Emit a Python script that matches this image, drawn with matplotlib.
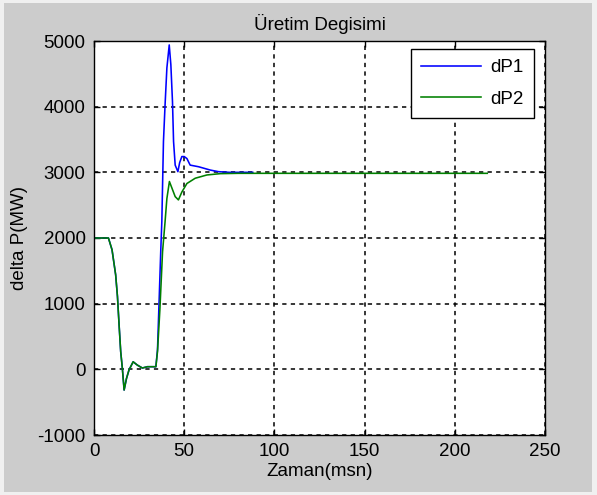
import matplotlib
matplotlib.use('Agg')
import matplotlib.pyplot as plt
from matplotlib.patches import Rectangle

plt.rcParams['font.family'] = ['Liberation Sans', 'DejaVu Sans']
plt.rcParams['axes.unicode_minus'] = False

# dP1 (blue)
t1 = [0, 8, 10, 12, 13, 13.9, 14.8, 15.7, 16.7, 18, 19.4, 21.7, 24, 26.8, 29.6, 34.3,
      35.2, 36.1, 37.0, 37.6, 38.5, 39.4, 40.4, 41.0, 41.7, 42.6, 43.5, 44.1, 45, 46.5,
      47.5, 48.7, 50, 51.5, 53.3, 58, 64.4, 69, 75, 88]
dp1 = [2000, 2000, 1820, 1440, 1110, 680, 270, 20, -315, -140, -10, 115, 65, 20, 40, 40,
       300, 1050, 1800, 2250, 3470, 4030, 4590, 4750, 4940, 4640, 4080, 3470, 3110, 3010,
       3150, 3240, 3240, 3210, 3110, 3085, 3035, 3010, 3000, 3000]

# dP2 (green)
t2 = [0, 8, 10, 12, 13, 13.9, 14.8, 15.7, 16.7, 18, 19.4, 21.7, 24, 26.8, 29.6, 34.3,
      35.2, 36.5, 38, 39.4, 40.4, 41.8, 43.2, 45, 46.8, 48.7, 51.5, 56.1, 62.6, 70, 80, 218]
dp2 = [2000, 2000, 1820, 1440, 1110, 680, 270, 20, -315, -140, -10, 115, 65, 20, 40, 40,
       270, 900, 1790, 2250, 2600, 2860, 2760, 2630, 2580, 2700, 2830, 2910, 2960, 2980, 2985, 2985]

xticks = [0, 50, 100, 150, 200, 250]
yticks = [-1000, 0, 1000, 2000, 3000, 4000, 5000]

W, H = 597, 495
fs = 13.5
fig = plt.figure(figsize=(W / 100, H / 100), dpi=100, facecolor='#f0f0f0')
fig.patches.append(Rectangle((4 / W, 3 / H), 588 / W, 489 / H, transform=fig.transFigure,
                             facecolor='#cccccc', edgecolor='none', zorder=-10))

ax = fig.add_axes([94 / W, 1 - 435 / H, 451 / W, 394 / H])
ax.plot(t1, dp1, color='#0000ff', linewidth=1.15, label='dP1')
ax.plot(t2, dp2, color='#008000', linewidth=1.15, label='dP2')

ax.set_xlim(0, 250)
ax.set_ylim(-1000, 5000)
ax.set_xticks(xticks)
ax.set_yticks(yticks)
ax.tick_params(direction='in', top=True, right=True, length=4, width=1,
               labelsize=fs, pad=6)
ax.tick_params(axis='x', pad=6)
for s in ax.spines.values():
    s.set_linewidth(1)
ax.grid(True, color='black', linewidth=1.1, linestyle=(0, (2.8, 2.8)))

ax.set_title('Üretim Degisimi', fontsize=fs, pad=8)
ax.set_xlabel('Zaman(msn)', fontsize=fs, labelpad=2)
ax.set_ylabel('delta P(MW)', fontsize=fs, labelpad=7)

leg = ax.legend(loc='upper right', bbox_to_anchor=(534 / W, 1 - 49 / H),
                bbox_transform=fig.transFigure, borderaxespad=0, fancybox=False,
                edgecolor='black', framealpha=1, fontsize=fs, handlelength=3.2,
                handletextpad=0.5, borderpad=0.55, labelspacing=0.75)
leg.get_frame().set_linewidth(1)

fig.savefig('out.png', dpi=100, facecolor=fig.get_facecolor())
